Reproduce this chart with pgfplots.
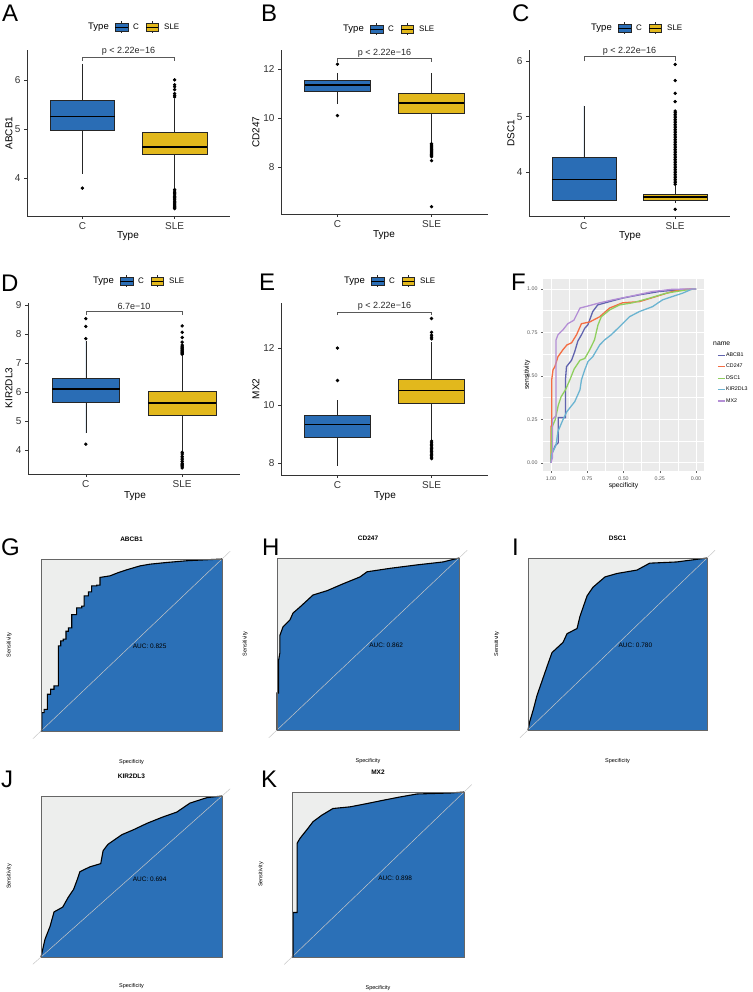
\documentclass[border=0pt]{standalone}
\usepackage{fontspec}
\setmainfont{Liberation Sans}
\usepackage{pgfplots}
\pgfplotsset{compat=1.18}
\usepgfplotslibrary{statistics}
\newcommand\fs[1]{\fontsize{#1}{#1}\selectfont}
\definecolor{cblue}{HTML}{2A6DB5}
\definecolor{syel}{HTML}{E2B81C}
\definecolor{rocblue}{HTML}{2B70B7}
\definecolor{rocgrey}{HTML}{EDEEED}
\definecolor{gg}{HTML}{EBEBEB}
\definecolor{cAB}{HTML}{6063AE}
\definecolor{cCD}{HTML}{F46D43}
\definecolor{cDS}{HTML}{8FCF5F}
\definecolor{cKI}{HTML}{6BB4D1}
\definecolor{cMX}{HTML}{B48FD6}
\tikzset{
 pbr/.style={black!65, line width=0.5pt},
 ptx/.style={font=\fs{9}, anchor=south, inner sep=1.2pt, text=black!85},
}
\pgfplotsset{
 bx/.style={scale only axis, anchor=south west, axis lines*=left,
  axis line style={-, black!80, line width=0.6pt},
  xmin=0.4, xmax=2.6, xtick={1,2}, xticklabels={C,SLE},
  tick align=outside, major tick length=3pt,
  tick style={black!80, line width=0.6pt},
  xticklabel style={font=\fs{10}, text=black!80},
  yticklabel style={font=\fs{10}, text=black!80},
  /pgf/number format/assume math mode=true, clip=false,
  boxplot/draw direction=y,
  boxplot/every median/.style={line width=1.3pt, black}},
 bxC/.style={boxplot prepared={draw position=1, box extend=0.7, whisker extend=0, #1},
  fill=cblue, draw=black!85, line width=0.6pt, mark=*, mark size=1.4pt,
  mark options={fill=black, draw=black}},
 bxS/.style={boxplot prepared={draw position=2, box extend=0.7, whisker extend=0, #1},
  fill=syel, draw=black!85, line width=0.6pt, mark=*, mark size=1.4pt,
  mark options={fill=black, draw=black}},
 roc/.style={scale only axis, anchor=south west, xmin=0, xmax=1, ymin=0, ymax=1,
  xtick=\empty, ytick=\empty, axis background/.style={fill=rocgrey},
  axis line style={black!60, line width=0.5pt}, clip=false, axis on top,
  title style={font=\bfseries\fs{6.5}, at={(axis description cs:0.5,1)}, anchor=base, yshift=12pt}},
 rocfill/.style={fill=rocblue, draw=none},
 rocline/.style={black, line width=1.1pt, line join=miter},
 rocdiag/.style={color=black!22, line width=0.5pt},
}
\newcommand\typelegend[2]{%
 \node[anchor=west, font=\fs{9.5}, inner sep=0pt] at (#1pt,-#2pt) {Type};
 \draw[black!85, line width=0.5pt] (#1pt+33.5pt,-#2pt+4pt) -- (#1pt+33.5pt,-#2pt+6pt) (#1pt+33.5pt,-#2pt-4pt) -- (#1pt+33.5pt,-#2pt-6pt);
 \draw[fill=cblue, draw=black!85, line width=0.5pt] (#1pt+27pt,-#2pt-4pt) rectangle (#1pt+40pt,-#2pt+4pt);
 \draw[black, line width=0.9pt] (#1pt+27pt,-#2pt) -- (#1pt+40pt,-#2pt);
 \node[font=\fs{8}, inner sep=0pt] at (#1pt+48pt,-#2pt) {C};
 \draw[black!85, line width=0.5pt] (#1pt+64pt,-#2pt+4pt) -- (#1pt+64pt,-#2pt+6pt) (#1pt+64pt,-#2pt-4pt) -- (#1pt+64pt,-#2pt-6pt);
 \draw[fill=syel, draw=black!85, line width=0.5pt] (#1pt+58pt,-#2pt-4pt) rectangle (#1pt+70pt,-#2pt+4pt);
 \draw[black, line width=0.9pt] (#1pt+58pt,-#2pt) -- (#1pt+70pt,-#2pt);
 \node[anchor=west, font=\fs{8}, inner sep=0pt] at (#1pt+76pt,-#2pt) {SLE};
}
\begin{document}
\begin{tikzpicture}
\path[use as bounding box] (0pt,0pt) rectangle (752pt,-992pt);
% panel letters
\begin{scope}[every node/.style={anchor=base west, font=\fs{24}, inner sep=0pt}]
\node at (2pt,-22pt) {A};
\node at (261pt,-22pt) {B};
\node at (512pt,-22pt) {C};
\node at (1pt,-291pt) {D};
\node at (259pt,-290pt) {E};
\node at (511pt,-290pt) {F};
\node at (1pt,-555pt) {G};
\node at (262pt,-555pt) {H};
\node at (512pt,-555pt) {I};
\node at (1pt,-787pt) {J};
\node at (261pt,-787pt) {K};
\end{scope}
% legends
\typelegend{88}{27}
\typelegend{343}{29}
\typelegend{591}{28}
\typelegend{93}{281}
\typelegend{344}{281}
% axis titles
\begin{scope}[every node/.style={font=\fs{10}, inner sep=0pt}]
\node[rotate=90] at (9pt,-133pt) {ABCB1};
\node at (128pt,-236pt) {Type};
\node[rotate=90] at (256pt,-132pt) {CD247};
\node at (384pt,-235pt) {Type};
\node[rotate=90] at (511pt,-133pt) {DSC1};
\node at (630pt,-236pt) {Type};
\node[rotate=90] at (9pt,-388pt) {KIR2DL3};
\node at (135pt,-496pt) {Type};
\node[rotate=90] at (256pt,-389pt) {MX2};
\node at (385pt,-496pt) {Type};
\end{scope}

% ---------- A ----------
\begin{axis}[bx, at={(27pt,-216pt)}, width=203pt, height=166pt, ymin=3.22, ymax=6.61, ytick={4,5,6}]
\addplot[bxC={lower whisker=4.08, lower quartile=4.96, median=5.25, upper quartile=5.58, upper whisker=6.33}] coordinates {(0,3.79)};
\addplot[bxS={lower whisker=3.80, lower quartile=4.47, median=4.63, upper quartile=4.92, upper whisker=5.60}] coordinates {
(0,5.65) (0,5.68) (0,5.72) (0,5.80) (0,5.86) (0,5.90) (0,6.00)
(0,3.37) (0,3.39) (0,3.41) (0,3.43) (0,3.45) (0,3.47) (0,3.50) (0,3.52) (0,3.55) (0,3.57) (0,3.60) (0,3.62) (0,3.65) (0,3.68) (0,3.70) (0,3.73) (0,3.76)};
\draw[pbr] (axis cs:1,6.39) |- (axis cs:2,6.47) -- (axis cs:2,6.39);
\node[ptx] at (axis cs:1.5,6.47) {p < 2.22e−16};
\end{axis}

% ---------- B ----------
\begin{axis}[bx, at={(281pt,-214pt)}, width=207pt, height=164pt, ymin=6.08, ymax=12.78, ytick={8,10,12}]
\addplot[bxC={lower whisker=10.57, lower quartile=11.10, median=11.35, upper quartile=11.53, upper whisker=11.85}] coordinates {(0,12.2) (0,10.1)};
\addplot[bxS={lower whisker=9.00, lower quartile=10.20, median=10.62, upper quartile=11.03, upper whisker=11.85}] coordinates {
(0,8.42) (0,8.46) (0,8.50) (0,8.54) (0,8.58) (0,8.62) (0,8.66) (0,8.70) (0,8.74) (0,8.78) (0,8.82) (0,8.86) (0,8.90) (0,8.95) (0,8.26) (0,6.38)};
\draw[pbr] (axis cs:1,12.30) |- (axis cs:2,12.44) -- (axis cs:2,12.30);
\node[ptx] at (axis cs:1.5,12.44) {p < 2.22e−16};
\end{axis}

% ---------- C ----------
\begin{axis}[bx, at={(529pt,-216pt)}, width=201pt, height=166pt, ymin=3.21, ymax=6.2, ytick={4,5,6}]
\addplot[bxC={lower whisker=3.48, lower quartile=3.50, median=3.87, upper quartile=4.27, upper whisker=5.20}] coordinates {};
\addplot[bxS={lower whisker=3.44, lower quartile=3.50, median=3.55, upper quartile=3.60, upper whisker=3.75}] coordinates {
(0,3.33)
(0,3.78) (0,3.81) (0,3.84) (0,3.87) (0,3.90) (0,3.93) (0,3.96) (0,3.99) (0,4.02) (0,4.05) (0,4.08) (0,4.11) (0,4.14) (0,4.17) (0,4.20)
(0,4.23) (0,4.26) (0,4.29) (0,4.32) (0,4.35) (0,4.38) (0,4.41) (0,4.44) (0,4.47) (0,4.50) (0,4.53) (0,4.56) (0,4.59) (0,4.62) (0,4.65)
(0,4.68) (0,4.71) (0,4.74) (0,4.77) (0,4.80) (0,4.83) (0,4.86) (0,4.89) (0,4.92) (0,4.95) (0,4.98) (0,5.01) (0,5.04) (0,5.07) (0,5.10)
(0,5.27) (0,5.42) (0,5.65) (0,5.94)};
\draw[pbr] (axis cs:1,6.00) |- (axis cs:2,6.08) -- (axis cs:2,6.00);
\node[ptx] at (axis cs:1.5,6.08) {p < 2.22e−16};
\end{axis}

% ---------- D ----------
\begin{axis}[bx, at={(28pt,-474pt)}, width=212pt, height=171pt, ymin=3.17, ymax=9.07, ytick={4,5,6,7,8,9}]
\addplot[bxC={lower whisker=4.58, lower quartile=5.63, median=6.10, upper quartile=6.48, upper whisker=7.75}] coordinates {(0,7.84) (0,8.26) (0,8.53) (0,4.20)};
\addplot[bxS={lower whisker=3.98, lower quartile=5.20, median=5.62, upper quartile=6.02, upper whisker=7.25}] coordinates {
(0,7.30) (0,7.33) (0,7.36) (0,7.39) (0,7.42) (0,7.45) (0,7.48) (0,7.51) (0,7.54) (0,7.58) (0,7.62) (0,7.72) (0,7.88) (0,8.06) (0,8.28)
(0,3.38) (0,3.42) (0,3.46) (0,3.50) (0,3.54) (0,3.60) (0,3.66) (0,3.72) (0,3.78) (0,3.86) (0,3.92)};
\draw[pbr] (axis cs:1,8.65) |- (axis cs:2,8.80) -- (axis cs:2,8.65);
\node[ptx] at (axis cs:1.5,8.80) {6.7e−10};
\end{axis}

% ---------- E ----------
\begin{axis}[bx, at={(281pt,-475pt)}, width=207pt, height=172pt, ymin=7.58, ymax=13.57, ytick={8,10,12}]
\addplot[bxC={lower whisker=7.90, lower quartile=8.90, median=9.35, upper quartile=9.65, upper whisker=10.18}] coordinates {(0,10.87) (0,12.0)};
\addplot[bxS={lower whisker=8.80, lower quartile=10.07, median=10.53, upper quartile=10.93, upper whisker=12.20}] coordinates {
(0,12.32) (0,12.38) (0,12.45) (0,12.55) (0,13.03)
(0,8.15) (0,8.20) (0,8.25) (0,8.30) (0,8.35) (0,8.40) (0,8.45) (0,8.50) (0,8.55) (0,8.60) (0,8.65) (0,8.70) (0,8.76)};
\draw[pbr] (axis cs:1,13.15) |- (axis cs:2,13.25) -- (axis cs:2,13.15);
\node[ptx] at (axis cs:1.5,13.25) {p < 2.22e−16};
\end{axis}

% ---------- F ----------
\begin{axis}[at={(543pt,-471pt)}, anchor=south west, scale only axis, width=161pt, height=192pt,
 x dir=reverse, xmin=-0.055, xmax=1.055, ymin=-0.047, ymax=1.057,
 axis background/.style={fill=gg},
 grid=both, major grid style={white, line width=0.7pt}, minor grid style={white, line width=0.35pt},
 minor tick num=1, axis lines*=left, axis line style={draw=none},
 xtick={0,0.25,0.5,0.75,1}, xticklabels={0.00,0.25,0.50,0.75,1.00},
 ytick={0,0.25,0.5,0.75,1}, yticklabels={0.00,0.25,0.50,0.75,1.00},
 tick align=outside, major tick length=2pt, minor tick length=0pt,
 tick style={black!60, line width=0.4pt},
 ticklabel style={font=\fs{5.3}, text=black!65},
 xlabel={specificity}, ylabel={sensitivity},
 xlabel style={font=\fs{6.8}, at={(axis description cs:0.5,0)}, anchor=center, yshift=-15pt},
 ylabel style={font=\fs{6.8}, at={(axis description cs:0,0.5)}, anchor=center, yshift=16pt},
 clip=false,
 legend style={at={(axis description cs:1.081,0.62)}, anchor=north west, draw=none, fill=none,
   font=\fs{5.3}, row sep=5pt, inner sep=0pt, nodes={inner sep=0.6pt}},
 legend cell align=left,
 legend image code/.code={\draw[#1, line width=1.3pt] (0pt,0pt) -- (7pt,0pt);},
 every axis plot/.append style={line width=1.3pt}]
\addplot[cAB] coordinates {(1,0) (0.995,0.05) (0.97,0.1) (0.95,0.115) (0.95,0.26) (0.9,0.26) (0.9,0.48) (0.893,0.553) (0.858,0.59) (0.836,0.64) (0.815,0.70) (0.79,0.736) (0.767,0.774) (0.746,0.793) (0.712,0.87) (0.678,0.908) (0.596,0.927) (0.507,0.947) (0.39,0.966) (0.253,0.985) (0.116,0.995) (0,1)};
\addlegendentry{ABCB1}
\addplot[cCD] coordinates {(1,0) (1,0.21) (0.995,0.21) (0.995,0.477) (0.986,0.535) (0.973,0.553) (0.952,0.61) (0.918,0.65) (0.89,0.678) (0.858,0.69) (0.824,0.736) (0.79,0.80) (0.733,0.81) (0.664,0.84) (0.596,0.89) (0.507,0.92) (0.39,0.927) (0.276,0.956) (0.164,0.985) (0.07,0.998) (0,1)};
\addlegendentry{CD247}
\addplot[cDS] coordinates {(1,0) (0.995,0.2) (0.97,0.25) (0.95,0.33) (0.93,0.38) (0.9,0.42) (0.87,0.477) (0.84,0.54) (0.80,0.59) (0.767,0.60) (0.733,0.65) (0.70,0.707) (0.676,0.793) (0.653,0.84) (0.596,0.879) (0.527,0.908) (0.438,0.92) (0.32,0.947) (0.208,0.975) (0.07,0.994) (0,1)};
\addlegendentry{DSC1}
\addplot[cKI] coordinates {(1,0) (0.995,0.05) (0.966,0.1) (0.952,0.18) (0.918,0.247) (0.89,0.295) (0.836,0.352) (0.80,0.42) (0.79,0.477) (0.767,0.535) (0.745,0.582) (0.712,0.61) (0.664,0.678) (0.63,0.707) (0.585,0.736) (0.527,0.783) (0.459,0.84) (0.39,0.87) (0.30,0.898) (0.231,0.937) (0.164,0.956) (0.094,0.975) (0.025,1.0) (0,1)};
\addlegendentry{KIR2DL3}
\addplot[cMX] coordinates {(1,0) (0.99,0.03) (0.99,0.25) (0.965,0.27) (0.965,0.707) (0.952,0.736) (0.918,0.764) (0.884,0.80) (0.842,0.82) (0.80,0.89) (0.753,0.90) (0.664,0.92) (0.575,0.937) (0.438,0.96) (0.30,0.985) (0.164,0.998) (0,1)};
\addlegendentry{MX2}
\node[anchor=west, font=\fs{6.8}, inner sep=0pt] at (axis description cs:1.056,0.661) {name};
\end{axis}

% ---------- G ----------
\begin{axis}[roc, at={(41pt,-731pt)}, width=181pt, height=172pt, title={ABCB1}]
\addplot[rocfill] coordinates {(0,0) (0.004,0) (0.004,0.107) (0.017,0.107) (0.017,0.126) (0.035,0.126) (0.035,0.214) (0.053,0.214) (0.053,0.243) (0.072,0.243) (0.072,0.262) (0.096,0.262) (0.096,0.495) (0.109,0.495) (0.109,0.524) (0.123,0.524) (0.123,0.534) (0.138,0.534) (0.138,0.58) (0.151,0.58) (0.151,0.60) (0.17,0.60) (0.17,0.677) (0.197,0.677) (0.197,0.716) (0.225,0.716) (0.225,0.726) (0.238,0.726) (0.238,0.786) (0.262,0.786) (0.262,0.809) (0.28,0.809) (0.28,0.844) (0.308,0.844) (0.308,0.848) (0.326,0.848) (0.326,0.893) (0.381,0.902) (0.427,0.921) (0.473,0.937) (0.547,0.96) (0.602,0.97) (0.696,0.98) (0.807,0.99) (1,1)} \closedcycle;
\addplot[rocdiag] coordinates {(-0.045,-0.045) (1.045,1.045)};
\addplot[rocline] coordinates {(0,0) (0.004,0) (0.004,0.107) (0.017,0.107) (0.017,0.126) (0.035,0.126) (0.035,0.214) (0.053,0.214) (0.053,0.243) (0.072,0.243) (0.072,0.262) (0.096,0.262) (0.096,0.495) (0.109,0.495) (0.109,0.524) (0.123,0.524) (0.123,0.534) (0.138,0.534) (0.138,0.58) (0.151,0.58) (0.151,0.60) (0.17,0.60) (0.17,0.677) (0.197,0.677) (0.197,0.716) (0.225,0.716) (0.225,0.726) (0.238,0.726) (0.238,0.786) (0.262,0.786) (0.262,0.809) (0.28,0.809) (0.28,0.844) (0.308,0.844) (0.308,0.848) (0.326,0.848) (0.326,0.893) (0.381,0.902) (0.427,0.921) (0.473,0.937) (0.547,0.96) (0.602,0.97) (0.696,0.98) (0.807,0.99) (1,1)};
\node[font=\fs{6.5}] at (axis description cs:0.6,0.49) {AUC: 0.825};
\node[font=\fs{5.5}, rotate=90] at (axis description cs:-0.175,0.5) {Sensitivity};
\node[font=\fs{5.5}] at (axis description cs:0.5,-0.18) {Specificity};
\end{axis}

% ---------- H ----------
\begin{axis}[roc, at={(277pt,-730pt)}, width=182pt, height=172pt, title={CD247}]
\addplot[rocfill] coordinates {(0,0) (0,0.215) (0.008,0.215) (0.008,0.40) (0.016,0.45) (0.016,0.55) (0.033,0.6) (0.071,0.64) (0.088,0.68) (0.126,0.715) (0.198,0.785) (0.275,0.81) (0.363,0.85) (0.456,0.89) (0.495,0.92) (0.621,0.94) (0.769,0.96) (0.912,0.977) (1,1)} \closedcycle;
\addplot[rocdiag] coordinates {(-0.045,-0.045) (1.045,1.045)};
\addplot[rocline] coordinates {(0,0) (0,0.215) (0.008,0.215) (0.008,0.40) (0.016,0.45) (0.016,0.55) (0.033,0.6) (0.071,0.64) (0.088,0.68) (0.126,0.715) (0.198,0.785) (0.275,0.81) (0.363,0.85) (0.456,0.89) (0.495,0.92) (0.621,0.94) (0.769,0.96) (0.912,0.977) (1,1)};
\node[font=\fs{6.5}] at (axis description cs:0.6,0.49) {AUC: 0.862};
\node[font=\fs{5.5}, rotate=90] at (axis description cs:-0.175,0.5) {Sensitivity};
\node[font=\fs{5.5}] at (axis description cs:0.5,-0.18) {Specificity};
\end{axis}

% ---------- I ----------
\begin{axis}[roc, at={(528pt,-730pt)}, width=179pt, height=172pt, title={DSC1}]
\addplot[rocfill] coordinates {(0,0) (0.01,0.05) (0.03,0.12) (0.05,0.2) (0.07,0.26) (0.09,0.32) (0.11,0.38) (0.134,0.45) (0.196,0.51) (0.218,0.56) (0.274,0.59) (0.29,0.66) (0.33,0.78) (0.363,0.83) (0.43,0.89) (0.497,0.91) (0.609,0.93) (0.68,0.97) (0.83,0.977) (1,1)} \closedcycle;
\addplot[rocdiag] coordinates {(-0.045,-0.045) (1.045,1.045)};
\addplot[rocline] coordinates {(0,0) (0.01,0.05) (0.03,0.12) (0.05,0.2) (0.07,0.26) (0.09,0.32) (0.11,0.38) (0.134,0.45) (0.196,0.51) (0.218,0.56) (0.274,0.59) (0.29,0.66) (0.33,0.78) (0.363,0.83) (0.43,0.89) (0.497,0.91) (0.609,0.93) (0.68,0.97) (0.83,0.977) (1,1)};
\node[font=\fs{6.5}] at (axis description cs:0.6,0.49) {AUC: 0.780};
\node[font=\fs{5.5}, rotate=90] at (axis description cs:-0.175,0.5) {Sensitivity};
\node[font=\fs{5.5}] at (axis description cs:0.5,-0.18) {Specificity};
\end{axis}

% ---------- J ----------
\begin{axis}[roc, at={(41pt,-957pt)}, width=181pt, height=161pt, title={KIR2DL3}]
\addplot[rocfill] coordinates {(0,0) (0.022,0.11) (0.05,0.19) (0.072,0.28) (0.12,0.31) (0.15,0.37) (0.18,0.42) (0.20,0.48) (0.215,0.53) (0.27,0.56) (0.33,0.58) (0.343,0.66) (0.37,0.70) (0.447,0.76) (0.51,0.79) (0.585,0.83) (0.674,0.87) (0.75,0.90) (0.823,0.956) (0.917,0.99) (1,1)} \closedcycle;
\addplot[rocdiag] coordinates {(-0.045,-0.045) (1.045,1.045)};
\addplot[rocline] coordinates {(0,0) (0.022,0.11) (0.05,0.19) (0.072,0.28) (0.12,0.31) (0.15,0.37) (0.18,0.42) (0.20,0.48) (0.215,0.53) (0.27,0.56) (0.33,0.58) (0.343,0.66) (0.37,0.70) (0.447,0.76) (0.51,0.79) (0.585,0.83) (0.674,0.87) (0.75,0.90) (0.823,0.956) (0.917,0.99) (1,1)};
\node[font=\fs{6.5}] at (axis description cs:0.6,0.48) {AUC: 0.694};
\node[font=\fs{5.5}, rotate=90] at (axis description cs:-0.175,0.5) {Sensitivity};
\node[font=\fs{5.5}] at (axis description cs:0.5,-0.18) {Specificity};
\end{axis}

% ---------- K ----------
\begin{axis}[roc, at={(292pt,-957pt)}, width=172pt, height=165pt, title={MX2}]
\addplot[rocfill] coordinates {(0,0) (0.006,0.005) (0.006,0.27) (0.03,0.27) (0.03,0.69) (0.047,0.72) (0.093,0.78) (0.122,0.82) (0.174,0.86) (0.238,0.90) (0.337,0.91) (0.436,0.93) (0.53,0.95) (0.628,0.97) (0.727,0.988) (0.919,0.994) (1,1)} \closedcycle;
\addplot[rocdiag] coordinates {(-0.045,-0.045) (1.045,1.045)};
\addplot[rocline] coordinates {(0,0) (0.006,0.005) (0.006,0.27) (0.03,0.27) (0.03,0.69) (0.047,0.72) (0.093,0.78) (0.122,0.82) (0.174,0.86) (0.238,0.90) (0.337,0.91) (0.436,0.93) (0.53,0.95) (0.628,0.97) (0.727,0.988) (0.919,0.994) (1,1)};
\node[font=\fs{6.5}] at (axis description cs:0.6,0.48) {AUC: 0.898};
\node[font=\fs{5.5}, rotate=90] at (axis description cs:-0.18,0.5) {Sensitivity};
\node[font=\fs{5.5}] at (axis description cs:0.5,-0.188) {Specificity};
\end{axis}
\end{tikzpicture}
\end{document}
